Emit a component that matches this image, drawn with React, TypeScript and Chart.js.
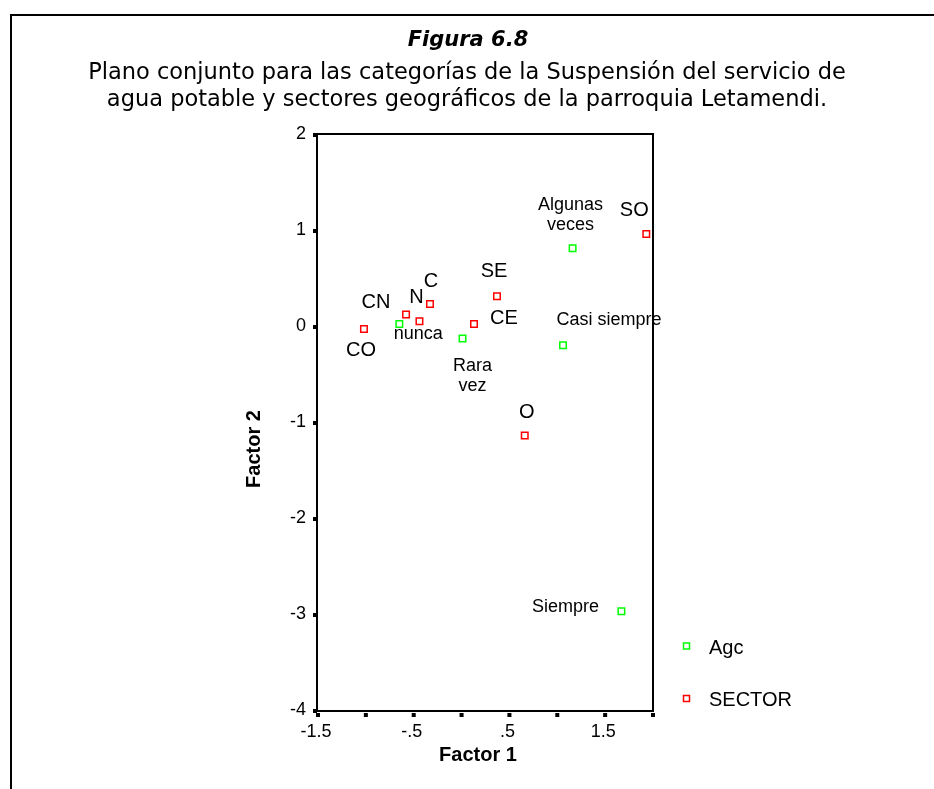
import React, { useEffect, useRef } from "react";
import { Chart, registerables } from "chart.js";

Chart.register(...registerables);

// ---- Data ----
const agcNames = ["nunca", "Rara\nvez", "Algunas\nveces", "Casi siempre", "Siempre"];
const agcX = [-0.65, 0.01, 1.16, 1.06, 1.67];
const agcY = [0.03, -0.12, 0.82, -0.19, -2.96];

const sectorNames = ["CO", "CN", "N", "C", "CE", "SE", "SO", "O"];
const sectorX = [-1.02, -0.58, -0.44, -0.33, 0.13, 0.37, 1.93, 0.66];
const sectorY = [-0.02, 0.13, 0.06, 0.24, 0.03, 0.32, 0.97, -1.13];

const xTicks = [-1.5, -1, -0.5, 0, 0.5, 1, 1.5, 2];
const xTickLabels = ["-1.5", "", "-.5", "", ".5", "", "1.5", ""];
const yTicks = [2, 1, 0, -1, -2, -3, -4];
const yTickLabels = ["2", "1", "0", "-1", "-2", "-3", "-4"];

const seriesNames = ["Agc", "SECTOR"];

const titleText = "Figura 6.8";
const subtitleLines = [
  "Plano conjunto para las categorías de la Suspensión del servicio de",
  "agua potable y sectores geográficos de la parroquia Letamendi.",
];

// ---- Label placement (style / layout only) ----
const agcLabelOffsets = [[19, 10], [10, 28], [-2, -43], [46, -25], [-56, -4]];
const sectorLabelOffsets = [[-3, 22], [-30, -12], [-3, -24], [1, -22], [30, -6], [-3, -25], [-12, -23], [2, -23]];

const GREEN = "#00ff00";
const RED = "#ff0000";
const SANS = "'Liberation Sans', Arial, sans-serif";

const decor = {
  id: "decor",
  beforeDatasetsDraw(chart: any) {
    const ctx = chart.ctx;
    const a = chart.chartArea;
    const xs = chart.scales.x;
    const ys = chart.scales.y;
    ctx.save();
    // page frame
    ctx.strokeStyle = "#000";
    ctx.lineWidth = 2;
    ctx.beginPath();
    ctx.moveTo(11, 789);
    ctx.lineTo(11, 15);
    ctx.lineTo(934, 15);
    ctx.stroke();

    // title
    ctx.fillStyle = "#000";
    ctx.textAlign = "center";
    ctx.textBaseline = "middle";
    ctx.font = "italic bold 21px 'DejaVu Sans', Verdana, sans-serif";
    ctx.fillText(titleText, 468, 41);
    ctx.font = "22.5px 'DejaVu Sans', Verdana, sans-serif";
    subtitleLines.forEach((l, i) => ctx.fillText(l, 467, 73 + i * 27));

    // plot box
    ctx.lineWidth = 2;
    ctx.strokeRect(a.left - 1, a.top - 1, a.right - a.left + 1, a.bottom - a.top + 1);

    // ticks
    ctx.fillStyle = "#000";
    ctx.font = "18px " + SANS;
    xTicks.forEach((v, i) => {
      const px = xs.getPixelForValue(v);
      ctx.fillRect(px - 2, a.bottom + 2, 4, 4);
      if (xTickLabels[i]) {
        ctx.textAlign = "center";
        ctx.textBaseline = "middle";
        ctx.fillText(xTickLabels[i], px - 2, a.bottom + 21);
      }
    });
    yTicks.forEach((v, i) => {
      const py = ys.getPixelForValue(v);
      ctx.fillRect(a.left - 5, py - 2, 4, 4);
      ctx.textAlign = "right";
      ctx.textBaseline = "middle";
      ctx.fillText(yTickLabels[i], a.left - 12, py - 1);
    });

    // axis titles
    ctx.font = "bold 20px " + SANS;
    ctx.textAlign = "center";
    ctx.textBaseline = "middle";
    ctx.fillText("Factor 1", 478, 755);
    ctx.save();
    ctx.translate(254, 449);
    ctx.rotate(-Math.PI / 2);
    ctx.fillText("Factor 2", 0, 0);
    ctx.restore();

    // legend
    ctx.lineWidth = 1.5;
    [GREEN, RED].forEach((c, i) => {
      const y = 646 + i * 52.5;
      ctx.fillStyle = "#fff";
      ctx.strokeStyle = c;
      ctx.fillRect(683.5, y - 3, 6, 6);
      ctx.strokeRect(683.5, y - 3, 6, 6);
      ctx.fillStyle = "#000";
      ctx.textAlign = "left";
      ctx.font = "20px " + SANS;
      ctx.fillText(seriesNames[i], 709, y + 2);
    });
    ctx.restore();
  },
  afterDatasetsDraw(chart: any) {
    const ctx = chart.ctx;
    const xs = chart.scales.x;
    const ys = chart.scales.y;
    ctx.save();
    ctx.fillStyle = "#000";
    ctx.textAlign = "center";
    ctx.textBaseline = "middle";
    ctx.font = "18px " + SANS;
    agcNames.forEach((n, i) => {
      const px = xs.getPixelForValue(agcX[i]);
      const py = ys.getPixelForValue(agcY[i]);
      n.split("\n").forEach((line, j) => {
        ctx.fillText(line, px + agcLabelOffsets[i][0], py + agcLabelOffsets[i][1] + j * 20);
      });
    });
    ctx.font = "20px " + SANS;
    sectorNames.forEach((n, i) => {
      const px = xs.getPixelForValue(sectorX[i]);
      const py = ys.getPixelForValue(sectorY[i]);
      ctx.fillText(n, px + sectorLabelOffsets[i][0], py + sectorLabelOffsets[i][1]);
    });
    ctx.restore();
  },
};

export default function App() {
  const ref = useRef<HTMLCanvasElement>(null);
  useEffect(() => {
    if (!ref.current) return;
    const chart = new Chart(ref.current, {
      type: "scatter",
      data: {
        datasets: [
          {
            label: seriesNames[0],
            data: agcX.map((x, i) => ({ x, y: agcY[i] })),
            pointStyle: "rect",
            pointRadius: 4.6,
            borderWidth: 1.5,
            borderColor: GREEN,
            backgroundColor: "#fff",
          },
          {
            label: seriesNames[1],
            data: sectorX.map((x, i) => ({ x, y: sectorY[i] })),
            pointStyle: "rect",
            pointRadius: 4.6,
            borderWidth: 1.5,
            borderColor: RED,
            backgroundColor: "#fff",
          },
        ],
      },
      options: {
        responsive: false,
        animation: false,
        layout: { padding: { left: 318, right: 281, top: 135, bottom: 78 } },
        plugins: { legend: { display: false }, tooltip: { enabled: false }, title: { display: false } },
        scales: {
          x: { type: "linear", min: -1.5, max: 2, display: false },
          y: { type: "linear", min: -4, max: 2, display: false },
        },
      },
      plugins: [decor],
    });
    return () => chart.destroy();
  }, []);
  return (
    <div style={{ position: "absolute", left: 0, top: 0, width: 934, height: 789, background: "#fff" }}>
      <canvas ref={ref} width={934} height={789} style={{ display: "block" }} />
    </div>
  );
}
